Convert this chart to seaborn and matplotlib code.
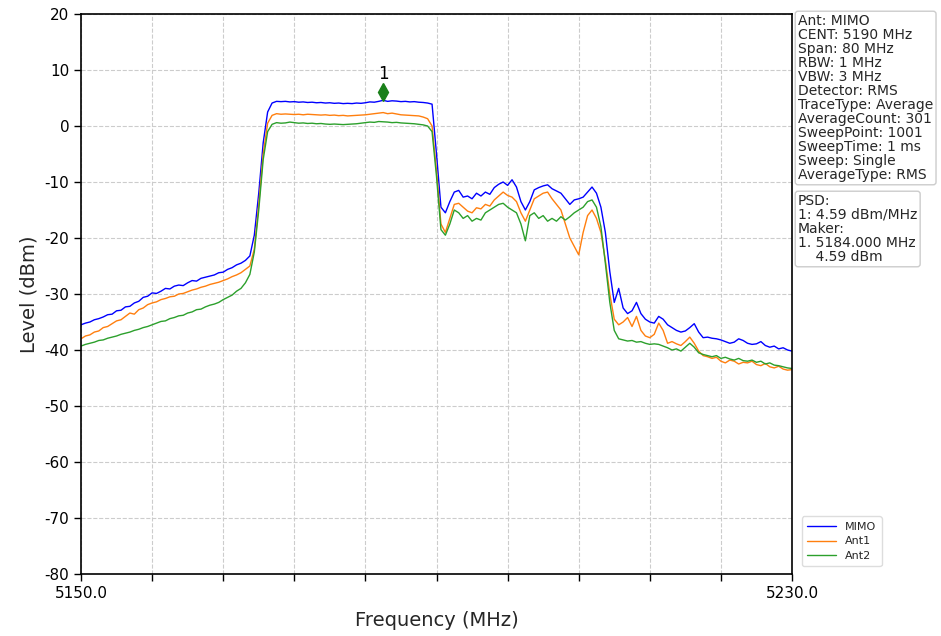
import numpy as np
import pandas as pd
import matplotlib
matplotlib.use("Agg")
import matplotlib.pyplot as plt
import seaborn as sns

# Sweep definition (CENT 5190 MHz, Span 80 MHz), traces read at 0.5 MHz steps
f_start, f_stop, n_pts = 5150.0, 5230.0, 161
freq = np.linspace(f_start, f_stop, n_pts)

mimo = [
    -35.5, -35.2, -35.0, -34.6, -34.4, -34.1, -33.7, -33.6, -33.0, -32.9, -32.3,
    -32.2, -31.6, -31.3, -30.6, -30.4, -29.8, -29.9, -29.5, -29.0, -29.1, -28.6,
    -28.4, -28.5, -28.0, -27.6, -27.7, -27.2, -27.0, -26.8, -26.6, -26.2, -26.1,
    -25.6, -25.3, -24.8, -24.5, -24.0, -23.2,
    -19.5, -12.0, -3.0, 2.5, 4.1,
    4.4, 4.35, 4.4, 4.3, 4.35, 4.25, 4.3, 4.2, 4.25,
    4.15, 4.2, 4.1, 4.15, 4.05, 4.1, 4.0, 4.05, 4.0, 4.1, 4.05, 4.15,
    4.3, 4.25, 4.4, 4.59, 4.4, 4.5, 4.45, 4.35, 4.4, 4.3, 4.35, 4.25,
    4.2, 4.1, 3.9,
    -5.0, -14.5,
    -15.5, -13.5, -11.8, -11.5, -12.7, -12.5, -13.0, -12.0, -12.5, -11.8,
    -12.2, -11.0, -10.4, -10.0, -10.6, -9.6, -10.9, -13.5, -15.0, -13.5,
    -11.4, -11.0, -10.7, -10.5, -11.2, -11.6, -12.0, -13.0, -14.0, -13.2,
    -13.0, -12.7, -11.8, -10.9, -12.0,
    -14.5, -19.0, -26.0, -31.5, -29.0, -32.5, -33.5, -33.0, -31.5, -33.5,
    -34.5, -35.0, -35.2, -34.0, -34.5, -35.5, -36.0, -36.5, -36.8, -36.6,
    -36.0, -35.3, -36.8, -37.8, -37.7, -37.9, -38.0, -38.2, -38.5, -38.8,
    -38.6, -38.0, -38.3, -38.8, -39.0, -38.9, -38.5, -39.2, -39.5, -39.3,
    -39.8, -39.6, -40.0, -40.2,
]

ant1 = [
    -38.0, -37.5, -37.3, -36.8, -36.6, -36.0, -35.8, -35.3, -34.8, -34.6, -34.0,
    -33.4, -33.6, -32.8, -32.5, -31.9, -31.6, -31.4, -31.0, -30.8, -30.5,
    -30.4, -30.0, -29.9, -29.6, -29.3, -29.1, -28.8, -28.6, -28.3, -28.1,
    -27.9, -27.6, -27.3, -26.9, -26.6, -26.2, -25.6, -25.0,
    -22.0, -14.0, -5.0, 0.5, 1.9,
    2.2, 2.1, 2.15, 2.1, 2.05, 2.1, 2.0, 2.1, 2.05,
    2.0, 1.95, 2.0, 1.9, 1.95, 1.85, 1.9, 1.8, 1.85, 1.9, 1.95, 2.0,
    2.1, 2.2, 2.3, 2.4, 2.2, 2.3, 2.15, 2.0, 1.95, 1.9, 1.85, 1.8,
    1.6, 1.3, 0.0,
    -8.0, -17.5,
    -19.0, -16.5, -14.0, -13.8, -14.5, -15.2, -15.5, -14.6, -14.8, -14.0,
    -14.3, -13.2, -12.5, -11.8, -12.4, -12.7, -13.5, -15.5, -17.0, -15.0,
    -13.0, -12.5, -12.0, -11.8, -13.0, -14.0, -15.0, -17.5, -20.0, -21.5,
    -23.0, -19.0, -16.0, -15.0, -16.5,
    -19.0, -24.0, -30.0, -34.5, -35.5, -35.0, -34.2, -35.8, -34.0, -36.5,
    -37.5, -37.8, -37.2, -35.2, -36.5, -38.8, -38.5, -38.9, -39.2, -38.5,
    -37.7, -38.8, -40.2, -41.0, -41.2, -41.5, -41.3, -42.0, -42.3, -41.8,
    -42.0, -42.5, -42.2, -42.3, -42.0, -42.6, -42.8, -42.4, -43.0, -43.2,
    -42.9, -43.4, -43.6, -43.5,
]

ant2 = [
    -39.3, -39.0, -38.8, -38.6, -38.3, -38.2, -37.9, -37.7, -37.5, -37.2, -37.0,
    -36.8, -36.5, -36.3, -36.0, -35.8, -35.5, -35.2, -34.9, -34.8, -34.4,
    -34.2, -33.9, -33.8, -33.4, -33.2, -32.8, -32.7, -32.3, -32.0, -31.8,
    -31.5, -31.0, -30.6, -30.2, -29.5, -29.0, -28.0, -26.5,
    -22.5, -15.0, -6.0, -1.0, 0.3,
    0.6, 0.5, 0.55, 0.7, 0.6, 0.5, 0.55, 0.45, 0.5,
    0.4, 0.45, 0.35, 0.3, 0.35, 0.3, 0.25, 0.3, 0.35, 0.4, 0.5, 0.6,
    0.7, 0.65, 0.8, 0.75, 0.7, 0.6, 0.65, 0.55, 0.5, 0.45, 0.4, 0.3,
    0.2, 0.0, -1.0,
    -9.0, -18.5,
    -19.5, -17.5, -15.0, -15.5, -16.5, -16.0, -17.0, -16.5, -16.8, -15.5,
    -15.0, -14.5, -14.0, -13.8, -14.5, -15.0, -15.5, -17.5, -20.5, -16.0,
    -15.5, -16.5, -16.0, -17.0, -16.5, -17.0, -16.2, -16.8, -16.2, -15.5,
    -15.0, -14.5, -13.5, -13.2, -14.5,
    -18.0, -24.5, -31.5, -36.5, -38.0, -38.2, -38.4, -38.3, -38.6, -38.5,
    -38.8, -39.0, -38.9, -39.0, -39.3, -39.6, -40.0, -39.8, -40.2, -39.5,
    -38.8, -39.5, -40.5, -40.8, -41.0, -41.2, -41.0, -41.5, -41.3, -41.6,
    -41.8, -41.5, -41.9, -42.0, -41.8, -42.2, -42.0, -42.5, -42.3, -42.7,
    -42.8, -43.0, -43.2, -43.3,
]

series_names = ["MIMO", "Ant1", "Ant2"]
series_colors = {"MIMO": "#0000ff", "Ant1": "#ff7f0e", "Ant2": "#2ca02c"}

marker_freq = 5184.0
marker_level = 4.59
marker_label = "1"

info_text = ("Ant: MIMO\nCENT: 5190 MHz\nSpan: 80 MHz\nRBW: 1 MHz\nVBW: 3 MHz\n"
             "Detector: RMS\nTraceType: Average\nAverageCount: 301\nSweepPoint: 1001\n"
             "SweepTime: 1 ms\nSweep: Single\nAverageType: RMS")
psd_text = "PSD:\n1: 4.59 dBm/MHz\nMaker:\n1. 5184.000 MHz\n    4.59 dBm"

yticks = list(range(-80, 21, 10))
xticks = list(np.arange(5150, 5230.1, 8))
xticklabels = ["5150.0"] + [""] * 9 + ["5230.0"]

df = pd.concat([
    pd.DataFrame({"Frequency": freq, "Level": vals, "Ant": name})
    for name, vals in zip(series_names, [mimo, ant1, ant2])
], ignore_index=True)

sns.set_style("white")
fig = plt.figure(figsize=(9.41, 6.36), dpi=100)
ax = fig.add_axes([81 / 941, 62 / 636, 711 / 941, 560 / 636])

sns.lineplot(data=df, x="Frequency", y="Level", hue="Ant", hue_order=series_names,
             palette=series_colors, linewidth=1.0, ax=ax, legend=True, sort=False,
             estimator=None)

ax.plot([marker_freq], [marker_level + 1.5], marker="d", color="#1a801a",
        markersize=9, linestyle="none", zorder=5)
ax.text(marker_freq, marker_level + 3.0, marker_label, ha="center", va="bottom",
        fontsize=12, color="black")

ax.set_xlim(f_start, f_stop)
ax.set_ylim(-80, 20)
ax.set_xticks(xticks)
ax.set_xticklabels(xticklabels, fontsize=11)
ax.set_yticks(yticks)
ax.set_yticklabels([f"{v}" for v in yticks], fontsize=11)
ax.tick_params(axis="both", direction="out", length=5, width=1, colors="black",
               bottom=True, left=True)
ax.grid(True, linestyle="--", color="#cccccc", linewidth=0.8)
for s in ax.spines.values():
    s.set_color("black")
    s.set_linewidth(1.2)
ax.set_xlabel("Frequency (MHz)", fontsize=14, labelpad=7)
ax.set_ylabel("Level (dBm)", fontsize=14, labelpad=4)

handles, labels = ax.get_legend_handles_labels()
ax.get_legend().remove()
fig.legend(handles, labels, loc="lower left", bbox_to_anchor=(796 / 941, 64 / 636),
           fontsize=8, frameon=True, framealpha=1.0, edgecolor="#dddddd",
           handlelength=2.6, borderpad=0.5, labelspacing=0.4)

fig.text(798 / 941, 1 - 14 / 636, info_text, ha="left", va="top", fontsize=10,
         linespacing=1.0,
         bbox=dict(boxstyle="round,pad=0.2", facecolor="white", edgecolor="#cccccc"))
fig.text(798 / 941, 1 - 194 / 636, psd_text, ha="left", va="top", fontsize=10,
         linespacing=1.0,
         bbox=dict(boxstyle="round,pad=0.2", facecolor="white", edgecolor="#cccccc"))

fig.savefig("out.png", dpi=100)
